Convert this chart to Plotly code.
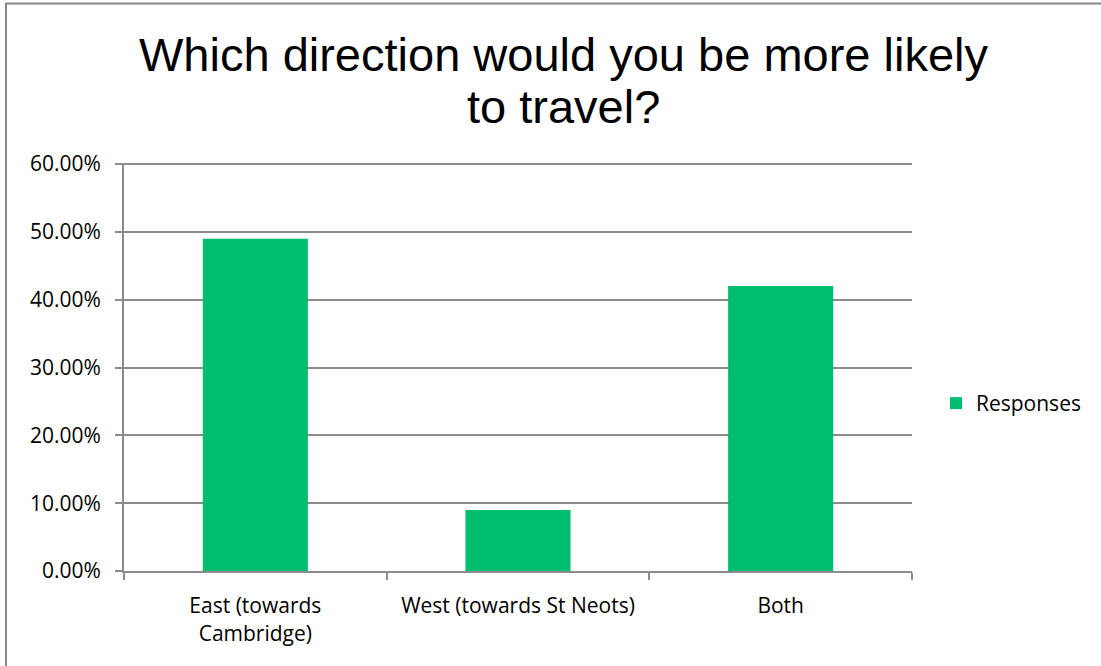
import plotly.graph_objects as go

categories = ["East (towards<br>Cambridge)", "West (towards St Neots)", "Both"]
values = [0.49, 0.09, 0.42]
series_name = "Responses"
tick_vals = [0, 0.1, 0.2, 0.3, 0.4, 0.5, 0.6]
tick_text = ["0.00%", "10.00%", "20.00%", "30.00%", "40.00%", "50.00%", "60.00%"]
title_lines = ["Which direction would you be more likely", "to travel?"]

W, H = 1101, 666
L, R, B = 124, 912, 571.5
YTOP = 0.6015
T = B - 407 * YTOP / 0.6

def px_to_xpaper(px):
    return (px - L) / (R - L)

def px_to_ypaper(py):
    return (B - py) / (B - T)

fig = go.Figure()
fig.add_trace(go.Bar(
    x=categories, y=values, name=series_name,
    marker=dict(color="#00BE6F", line=dict(width=0)),
    width=0.4, showlegend=True,
))

grid_col = "#8C8C8C"
tick_font = dict(family="Open Sans, sans-serif", size=21, color="#000000")

annotations = []
for line, cy in zip(title_lines, [55, 107]):
    annotations.append(dict(
        text=line, xref="paper", yref="paper",
        x=px_to_xpaper(563), y=px_to_ypaper(cy),
        xanchor="center", yanchor="middle", showarrow=False,
        font=dict(family="Liberation Sans, Arial, sans-serif", size=47, color="#000000"),
    ))

fig.update_layout(
    width=W, height=H,
    margin=dict(l=L, r=W - R, t=T, b=H - B, pad=0),
    paper_bgcolor="white", plot_bgcolor="white",
    showlegend=True,
    legend=dict(
        x=px_to_xpaper(936), xanchor="left",
        y=px_to_ypaper(404), yanchor="middle",
        font=dict(family="Open Sans, sans-serif", size=21, color="#000000"),
        itemwidth=30, bgcolor="rgba(0,0,0,0)",
    ),
    xaxis=dict(
        type="category",
        showgrid=False,
        showline=True, linecolor=grid_col, linewidth=2,
        ticks="outside", tickson="boundaries", ticklen=7, tickwidth=2, tickcolor=grid_col,
        tickfont=tick_font, ticklabelstandoff=15,
        range=[-0.5, 2.5],
    ),
    yaxis=dict(
        range=[0, YTOP],
        tickvals=tick_vals, ticktext=tick_text,
        showgrid=True, gridcolor=grid_col, gridwidth=2,
        showline=True, linecolor=grid_col, linewidth=2,
        ticks="outside", ticklen=7, tickwidth=2, tickcolor=grid_col,
        tickfont=tick_font, ticklabelstandoff=10,
        zeroline=False,
    ),
    annotations=annotations,
    shapes=[dict(
        type="rect", xref="paper", yref="paper",
        x0=px_to_xpaper(6), x1=1.5,
        y0=-0.5, y1=px_to_ypaper(4),
        line=dict(color="#888888", width=2), fillcolor="rgba(0,0,0,0)",
        layer="below",
    )],
)

fig.write_html("out.html", config={"displayModeBar": False},
               post_script="document.body.style.margin='0';document.body.style.overflow='hidden';")
